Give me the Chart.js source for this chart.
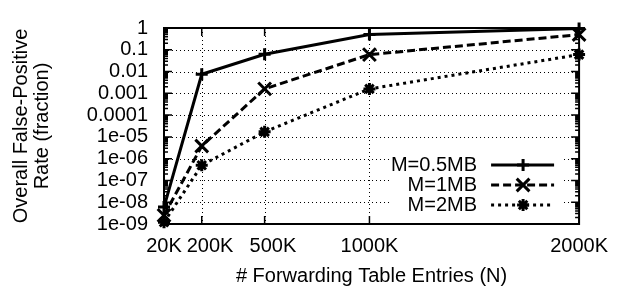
<!DOCTYPE html>
<html lang="en">
<head>
<meta charset="UTF-8">
<title>False-Positive Rate vs Forwarding Table Entries</title>
<script src="https://cdn.jsdelivr.net/npm/chart.js"></script>
<style>
  body { margin: 0; background: #fff; }
</style>
</head>
<body>
<canvas id="myChart" width="618" height="288"></canvas>
<script>
// forwarding table entries, in thousands
const entries = [20, 200, 500, 1000, 2000];
// the original nudges 200K/500K right with leading blanks
const xTickLabels = ['20K', '   200K', '   500K', '1000K', '2000K'];

// overall false-positive rate per memory size
const rateHalfMB = [6e-9, 7.5e-3, 0.062, 0.5, 0.95];
const rateOneMB = [2.5e-9, 3.8e-6, 1.6e-3, 0.06, 0.5];
const rateTwoMB = [1.2e-9, 5e-7, 1.7e-5, 1.6e-3, 0.06];
const seriesLabels = ['M=0.5MB', 'M=1MB', 'M=2MB'];

const yTickValues = [1e-9, 1e-8, 1e-7, 1e-6, 1e-5, 1e-4, 1e-3, 1e-2, 1e-1, 1];
const yTickLabels = ['1e-09', '1e-08', '1e-07', '1e-06', '1e-05', '0.0001', '0.001', '0.01', '0.1', '1'];

Chart.defaults.font.family = "'Liberation Sans', Arial, sans-serif";
Chart.defaults.font.size = 20;
Chart.defaults.color = '#000';

function toPoints(values) {
    return entries.map((n, i) => ({ x: n, y: values[i] }));
}

// gnuplot-like frame: dotted grid, inward ticks, opaque key box
const framePlugin = {
    id: 'frame',
    beforeDatasetsDraw(chart) {
        const { ctx, chartArea: a, scales: { x, y } } = chart;
        ctx.save();
        ctx.strokeStyle = '#000';
        ctx.lineWidth = 1;
        ctx.setLineDash([1, 3]);
        ctx.beginPath();
        yTickValues.slice(1, -1).forEach(v => {
            const py = Math.round(y.getPixelForValue(v)) + 0.5;
            ctx.moveTo(a.left, py);
            ctx.lineTo(a.right, py);
        });
        entries.slice(1, -1).forEach(v => {
            const px = Math.round(x.getPixelForValue(v)) + 0.5;
            ctx.moveTo(px, a.top);
            ctx.lineTo(px, a.bottom);
        });
        ctx.stroke();
        ctx.setLineDash([]);

        // key box
        ctx.fillStyle = '#fff';
        ctx.fillRect(a.right - 188, a.bottom - 74, 172, 68);

        ctx.lineWidth = 1.5;
        ctx.beginPath();
        yTickValues.forEach((v, i) => {
            const py = y.getPixelForValue(v);
            ctx.moveTo(a.left, py); ctx.lineTo(a.left + 8, py);
            ctx.moveTo(a.right, py); ctx.lineTo(a.right - 8, py);
            if (i === yTickValues.length - 1) return;
            for (let m = 2; m < 10; m++) {
                const pm = y.getPixelForValue(v * m);
                ctx.moveTo(a.left, pm); ctx.lineTo(a.left + 4, pm);
                ctx.moveTo(a.right, pm); ctx.lineTo(a.right - 4, pm);
            }
        });
        entries.forEach(v => {
            const px = x.getPixelForValue(v);
            ctx.moveTo(px, a.bottom); ctx.lineTo(px, a.bottom - 8);
            ctx.moveTo(px, a.top); ctx.lineTo(px, a.top + 8);
        });
        ctx.stroke();

        ctx.lineWidth = 2;
        ctx.strokeRect(a.left, a.top, a.right - a.left, a.bottom - a.top);
        ctx.restore();
    },
    afterDatasetsDraw(chart) {
        const { ctx, chartArea: a } = chart;
        ctx.save();
        ctx.font = "20px 'Liberation Sans', Arial, sans-serif";
        ctx.textAlign = 'right';
        ctx.textBaseline = 'middle';
        chart.data.datasets.forEach((ds, i) => {
            const rowY = a.bottom - 59 + i * 20;
            ctx.fillStyle = '#000';
            ctx.fillText(ds.label, a.right - 102, rowY);
            ctx.strokeStyle = ds.borderColor;
            ctx.lineWidth = ds.borderWidth;
            ctx.setLineDash(ds.borderDash);
            ctx.beginPath();
            ctx.moveTo(a.right - 88, rowY);
            ctx.lineTo(a.right - 25, rowY);
            ctx.stroke();
            ctx.setLineDash([]);
            ctx.lineWidth = ds.pointBorderWidth;
            Chart.helpers.drawPoint(ctx, {
                pointStyle: ds.pointStyle,
                radius: ds.pointRadius,
                borderWidth: ds.pointBorderWidth,
                rotation: 0
            }, a.right - 56, rowY);
        });
        ctx.restore();
    }
};

function series(label, values, dash, style, radius) {
    return {
        label: label,
        data: toPoints(values),
        borderColor: '#000',
        backgroundColor: '#000',
        borderWidth: 3,
        borderDash: dash,
        pointStyle: style,
        pointRadius: radius,
        pointBorderWidth: 3,
        pointBorderColor: '#000',
        pointBackgroundColor: '#000',
        tension: 0,
        clip: false
    };
}

const ctx = document.getElementById('myChart').getContext('2d');
new Chart(ctx, {
    type: 'line',
    data: {
        datasets: [
            series(seriesLabels[0], rateHalfMB, [], 'cross', 6),
            series(seriesLabels[1], rateOneMB, [8, 4], 'crossRot', 9),
            series(seriesLabels[2], rateTwoMB, [3, 4], 'star', 6)
        ]
    },
    options: {
        responsive: false,
        animation: false,
        layout: { padding: { left: 0, right: 33, top: 19, bottom: 0 } },
        plugins: { legend: { display: false }, tooltip: { enabled: false } },
        scales: {
            x: {
                type: 'linear',
                min: 20,
                max: 2000,
                afterBuildTicks: s => { s.ticks = entries.map(v => ({ value: v })); },
                afterFit: s => { s.height = 64; },
                grid: { display: false, drawTicks: false },
                border: { display: false },
                ticks: { padding: 10, autoSkip: false, maxRotation: 0, callback: (v, i) => xTickLabels[i] },
                title: {
                    display: true,
                    text: '# Forwarding Table Entries (N)',
                    font: { size: 20, lineHeight: 1.05 },
                    padding: { top: 0, bottom: 1 }
                }
            },
            y: {
                type: 'logarithmic',
                min: 1e-9,
                max: 1,
                afterBuildTicks: s => { s.ticks = yTickValues.map(v => ({ value: v })); },
                afterFit: s => { s.width = 164; },
                grid: { display: false, drawTicks: false },
                border: { display: false },
                ticks: { padding: 16, autoSkip: false, callback: (v, i) => yTickLabels[i] },
                title: {
                    display: true,
                    text: ['Overall False-Positive', 'Rate (fraction)'],
                    font: { size: 20, lineHeight: 1.05 },
                    padding: { top: 11, bottom: 0 }
                }
            }
        }
    },
    plugins: [framePlugin]
});
</script>
</body>
</html>
